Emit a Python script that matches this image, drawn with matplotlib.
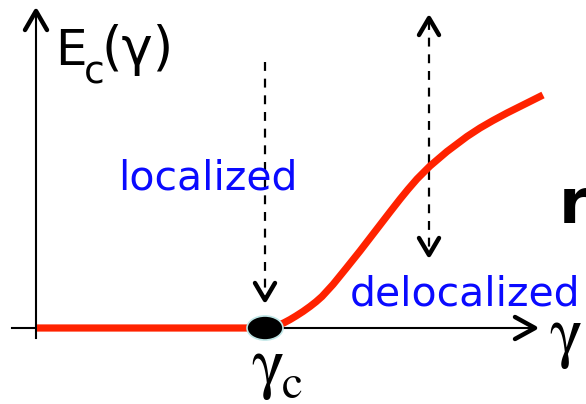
import matplotlib.pyplot as plt
from matplotlib.patches import Ellipse

# coordinates in pixel units, y grows downward
curve_x = [37, 265, 272, 278, 284, 290, 296, 303, 310, 316, 322, 333,
           346, 360, 370, 380, 390, 400, 408, 417, 430, 447, 467, 480,
           493, 507, 520, 532, 543]
curve_y = [328, 328, 327.3, 325.5, 322.8, 319.6, 316, 311.5, 306.5, 301.8,
           296.5, 284.5, 268.5, 251, 238, 225, 212, 199.2, 189.4, 179,
           166, 151.5, 136.5, 128, 120.5, 113, 106.5, 100.5, 95]

gamma_c = 265
axis_y = 328
axis_x = 36

# dashed arrows: (x, y_start, y_end)
arrow_down = (265, 62, 300)
arrow_both = (429, 18, 255)

fig = plt.figure(figsize=(5.86, 4.04), dpi=100)
ax = fig.add_axes([0, 0, 1, 1])
ax.set_xlim(0, 586)
ax.set_ylim(404, 0)
ax.axis('off')


def chevron(x, y, dx, dy):
    # open arrow head with its tip at (x, y)
    ax.plot([x - dx, x, x + dx], [y - dy, y, y - dy], color='black',
            lw=3.2, solid_capstyle='round', solid_joinstyle='round')


def chevron_h(x, y, dx, dy):
    ax.plot([x - dx, x, x - dx], [y - dy, y, y + dy], color='black',
            lw=3.2, solid_capstyle='round', solid_joinstyle='round')


# axes
ax.plot([axis_x, axis_x], [338, 11], color='black', lw=1.5)
chevron(axis_x, 11, 11, -19)
ax.plot([12, 534], [axis_y, axis_y], color='black', lw=1.5)
chevron_h(535, axis_y, 20, 11)

# red curve
ax.plot(curve_x, curve_y, color='#ff2200', lw=5.2, solid_capstyle='butt',
        solid_joinstyle='round', zorder=3)

# critical point
ax.add_patch(Ellipse((gamma_c, axis_y), 36, 24, facecolor='black',
                     edgecolor='#bfe6e6', lw=1.2, zorder=4))

# dashed arrows
x, y0, y1 = arrow_down
ax.plot([x, x], [y0, y1 - 3], color='black', lw=1.6, dashes=(4, 3.5))
chevron(x, y1, 10, 17)

x, y0, y1 = arrow_both
ax.plot([x, x], [y0 + 3, y1 - 3], color='black', lw=1.6, dashes=(4, 3.5))
chevron(x, y0, 10, -17)
chevron(x, y1, 10, 17)

# labels
ax.text(55, 65, 'E', fontsize=36, color='black', ha='left', va='baseline')
ax.text(84, 83, 'c', fontsize=27, color='black', ha='left', va='baseline')
ax.text(101, 65, '(γ)', fontsize=38, color='black', ha='left', va='baseline')
ax.text(118, 190, 'localized', fontsize=29.5, color='#0a0aff',
        ha='left', va='baseline')
ax.text(350, 305, 'delocalized', fontsize=29.5, color='#0a0aff',
        ha='left', va='baseline')
ax.text(559, 223, 'r', fontsize=45, color='black', ha='left', va='baseline',
        fontweight='bold')
ax.text(549, 354, 'γ', fontsize=50, family='STIXGeneral',
        ha='left', va='baseline')
ax.text(251, 385, 'γ', fontsize=50, family='STIXGeneral',
        ha='left', va='baseline')
ax.text(282, 398, 'c', fontsize=34, family='STIXGeneral',
        ha='left', va='baseline')

fig.savefig('out.png', dpi=100)
